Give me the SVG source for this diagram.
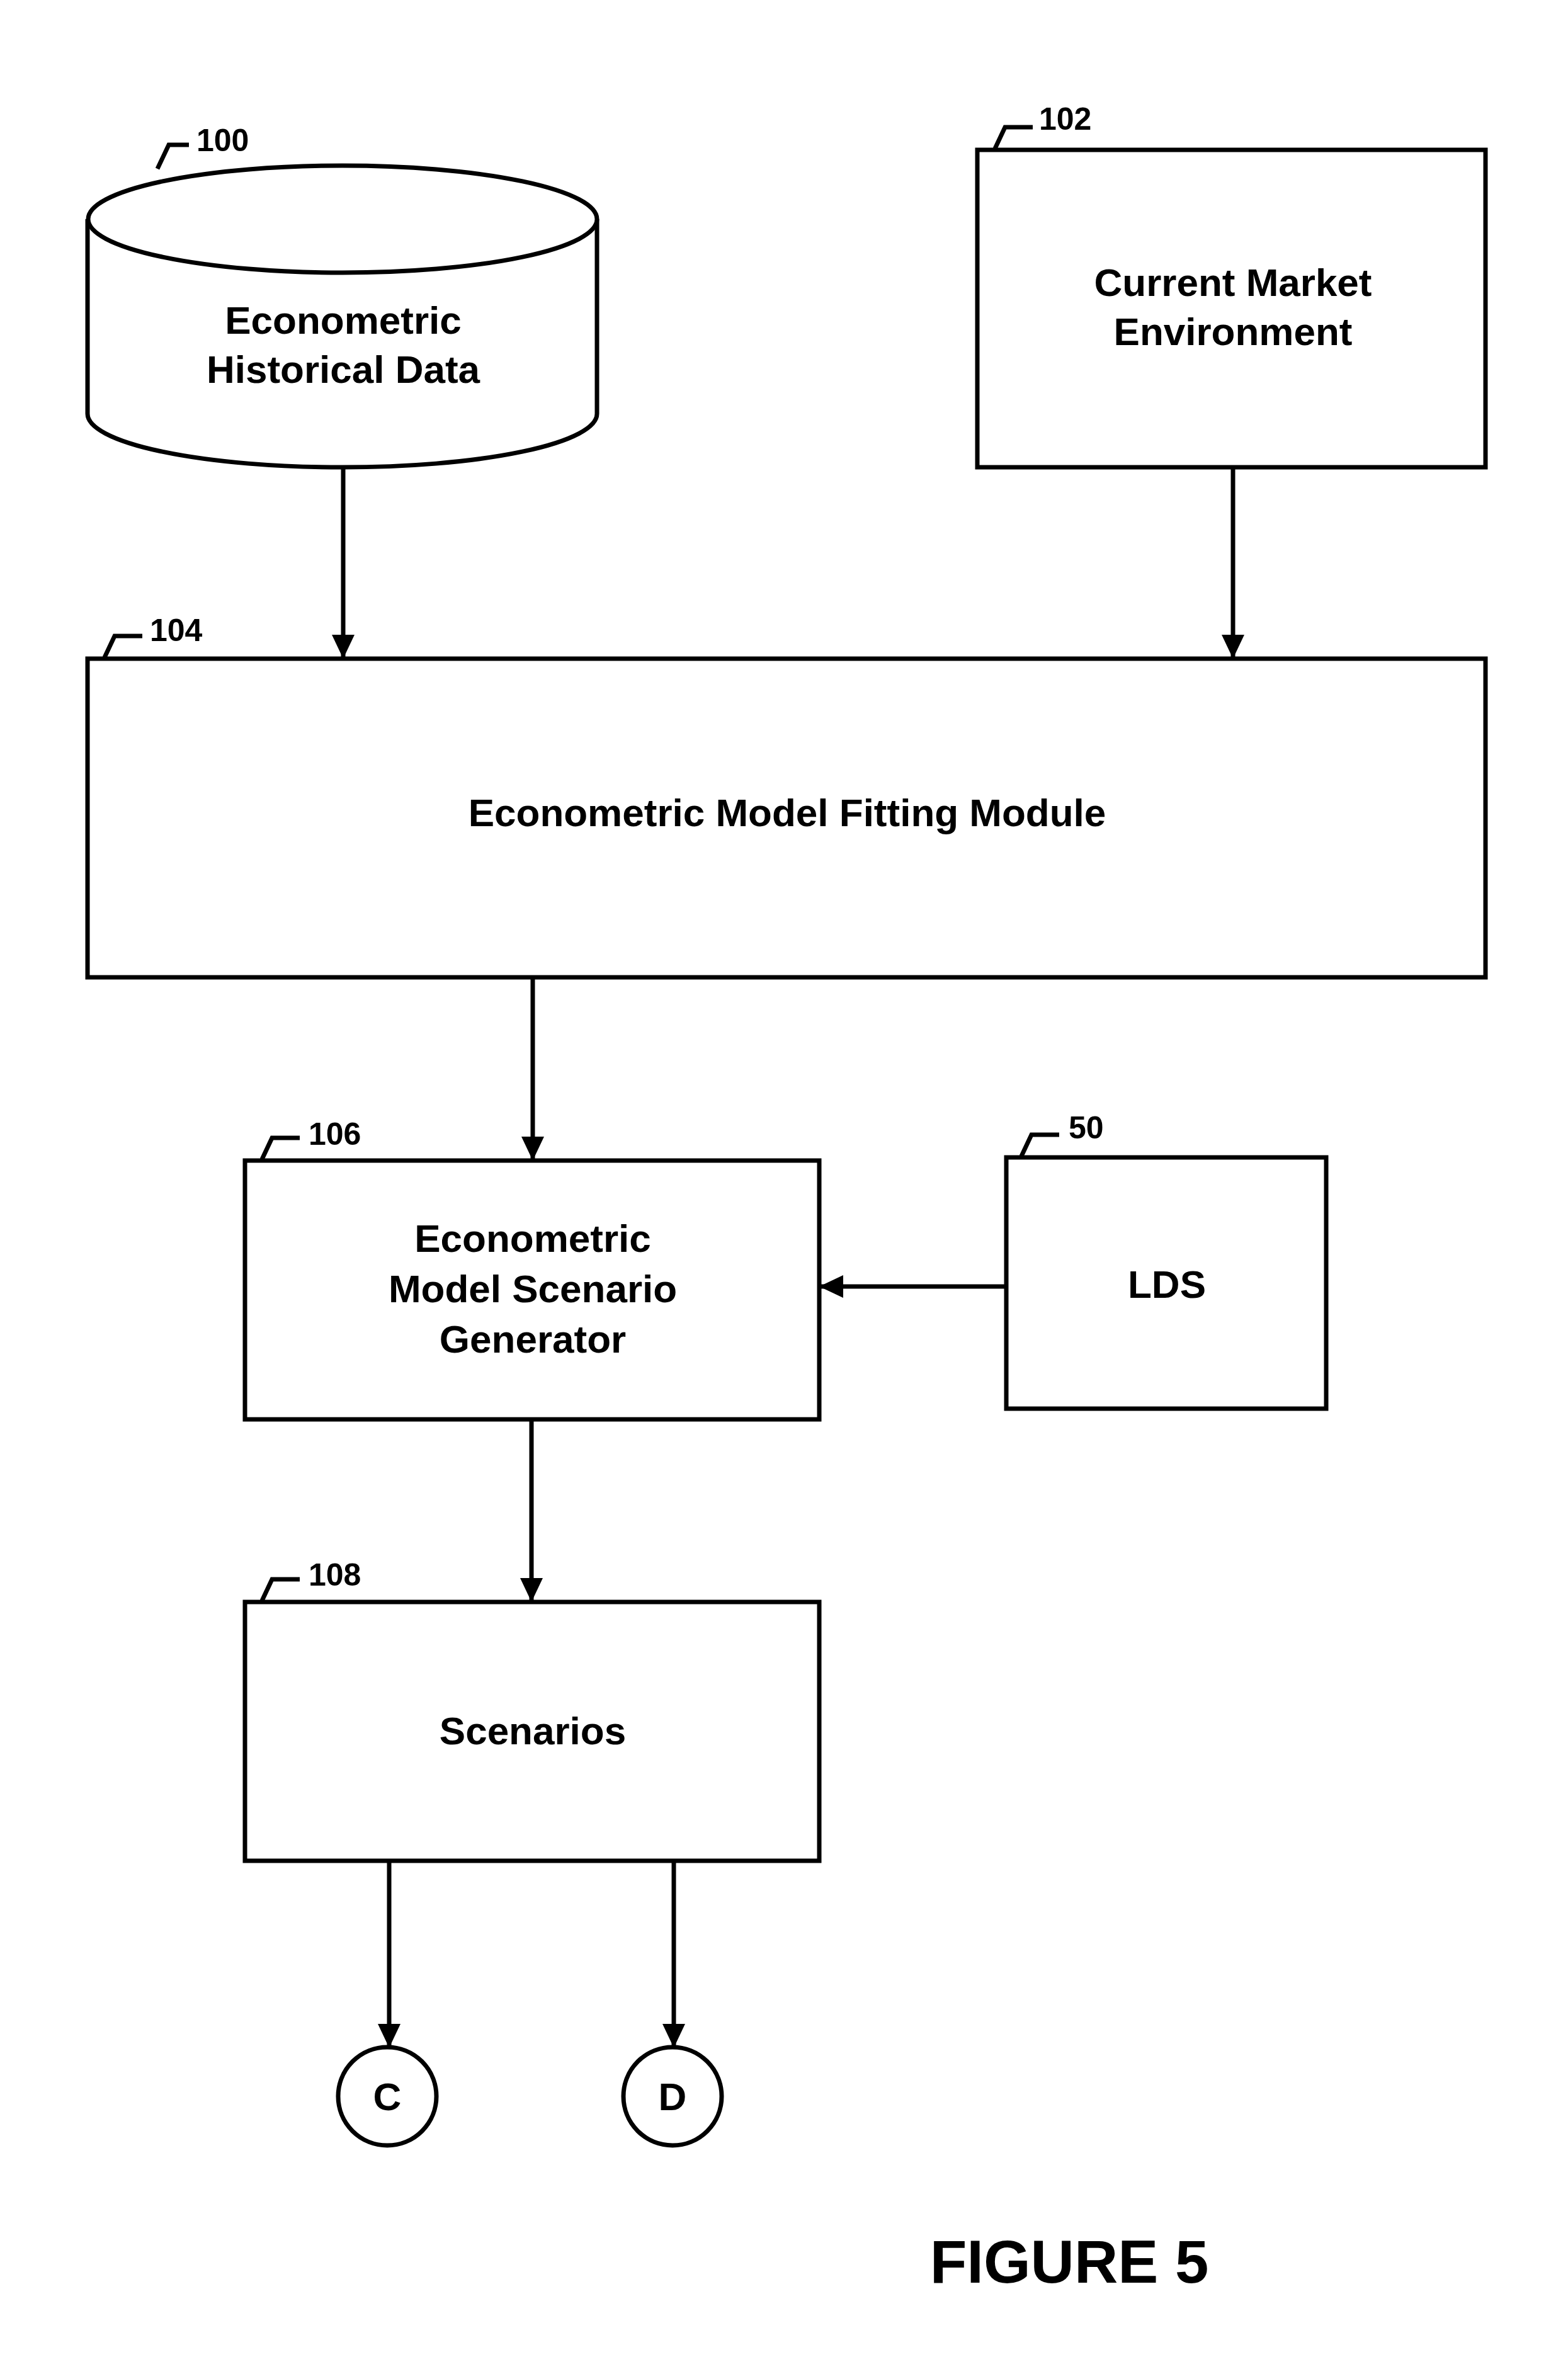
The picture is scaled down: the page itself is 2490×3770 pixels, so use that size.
<svg xmlns="http://www.w3.org/2000/svg" width="2490" height="3770" viewBox="0 0 2490 3770">
<style>
.s{fill:none;stroke:#000;stroke-width:7}
.b{fill:#fff;stroke:#000;stroke-width:7}
.t{font-family:"Liberation Sans",Arial,sans-serif;font-weight:bold;font-size:62px;text-anchor:middle;fill:#000}
.l{font-family:"Liberation Sans",Arial,sans-serif;font-weight:bold;font-size:50px;fill:#000}
.c{stroke:#000;stroke-width:7;fill:none;marker-end:url(#a)}
</style>
<defs><marker id="a" markerUnits="userSpaceOnUse" markerWidth="40" markerHeight="44" refX="36" refY="20" orient="auto"><path d="M0,2 L38,20 L0,38 Z" fill="#000"/></marker></defs>
<rect width="2490" height="3770" fill="#fff"/>
<g id="n100">
<path class="b" d="M139,348 V657 A404,85 0 0 0 948,657 V348"/>
<ellipse class="b" cx="544" cy="348" rx="404" ry="85"/>
<text class="t" x="545" y="530">Econometric</text>
<text class="t" x="545" y="608">Historical Data</text>
<path class="s" d="M250,268 L268,230 H300" stroke-width="4"/>
<text class="l" x="312" y="240">100</text>
</g>
<g id="n102">
<rect class="b" x="1552" y="238" width="807" height="504"/>
<text class="t" x="1958" y="470">Current Market</text>
<text class="t" x="1958" y="548">Environment</text>
<path class="s" d="M1580,236 L1596,202 H1640" stroke-width="4"/>
<text class="l" x="1650" y="206">102</text>
</g>
<g id="n104">
<rect class="b" x="139" y="1046" width="2220" height="506"/>
<text class="t" x="1250" y="1312">Econometric Model Fitting Module</text>
<path class="s" d="M166,1044 L182,1010 H226" stroke-width="4"/>
<text class="l" x="238" y="1018">104</text>
</g>
<g id="n106">
<rect class="b" x="389" y="1843" width="912" height="411"/>
<text class="t" x="846" y="1988">Econometric</text>
<text class="t" x="846" y="2068">Model Scenario</text>
<text class="t" x="846" y="2148">Generator</text>
<path class="s" d="M416,1841 L432,1807 H476" stroke-width="4"/>
<text class="l" x="490" y="1818">106</text>
</g>
<g id="n50">
<rect class="b" x="1598" y="1838" width="508" height="399"/>
<text class="t" x="1853" y="2061">LDS</text>
<path class="s" d="M1622,1836 L1638,1802 H1682" stroke-width="4"/>
<text class="l" x="1697" y="1808">50</text>
</g>
<g id="n108">
<rect class="b" x="389" y="2544" width="912" height="411"/>
<text class="t" x="846" y="2770">Scenarios</text>
<path class="s" d="M416,2542 L432,2508 H476" stroke-width="4"/>
<text class="l" x="490" y="2518">108</text>
</g>
<g id="nC">
<circle class="b" cx="615" cy="3329" r="78"/>
<text class="t" x="615" y="3351">C</text>
</g>
<g id="nD">
<circle class="b" cx="1068" cy="3329" r="78"/>
<text class="t" x="1068" y="3351">D</text>
</g>
<text class="t" x="1698" y="3625" style="font-size:96px">FIGURE 5</text>
<g id="connectors">
<line class="c" x1="545" y1="742" x2="545" y2="1044"/>
<line class="c" x1="1958" y1="742" x2="1958" y2="1044"/>
<line class="c" x1="846" y1="1552" x2="846" y2="1841"/>
<line class="c" x1="1598" y1="2043" x2="1303" y2="2043"/>
<line class="c" x1="844" y1="2254" x2="844" y2="2542"/>
<line class="c" x1="618" y1="2955" x2="618" y2="3250"/>
<line class="c" x1="1070" y1="2955" x2="1070" y2="3250"/>
</g>
</svg>
